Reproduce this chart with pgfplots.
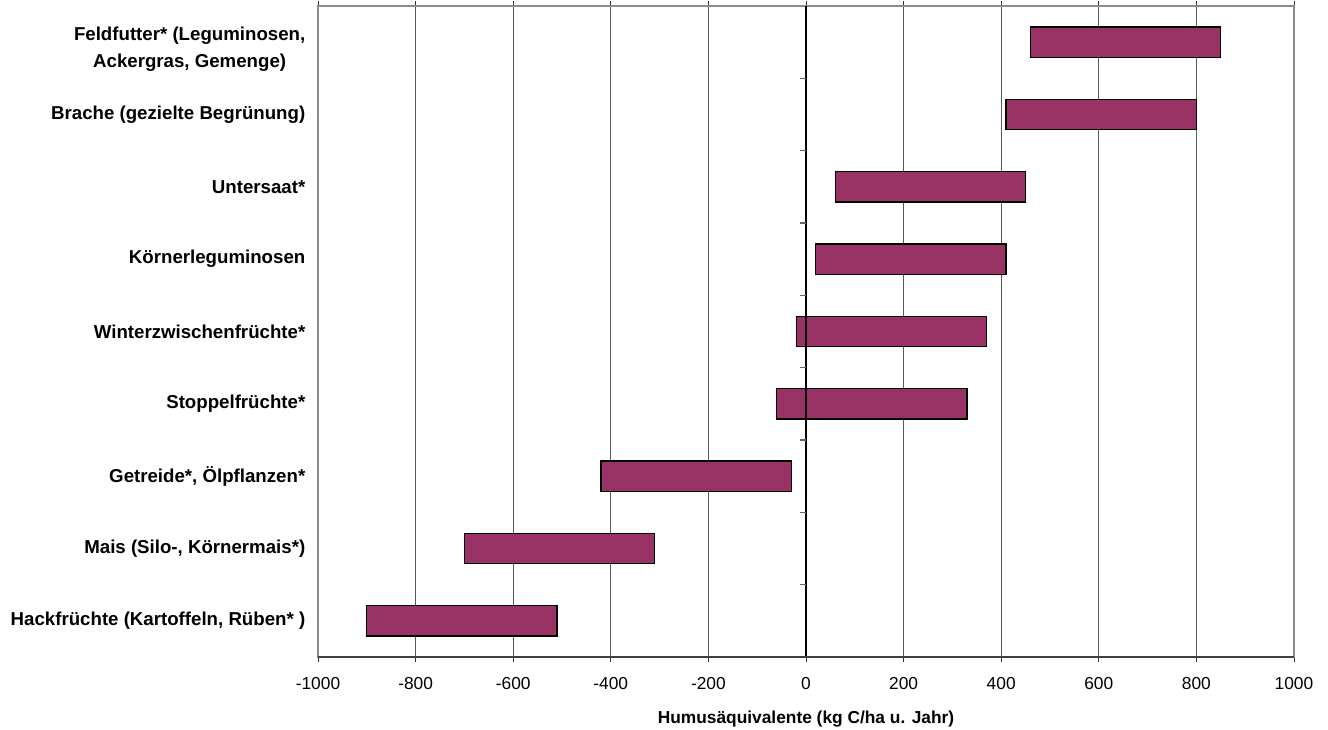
\documentclass[border=0pt]{standalone}
\usepackage{fontspec}
\setmainfont{Liberation Sans}
\usepackage{pgfplots}
\pgfplotsset{compat=1.18}
\definecolor{barcol}{HTML}{993366}
\begin{document}
\begin{tikzpicture}[x=1pt,y=1pt]
\useasboundingbox (-238.5,-54.75) rectangle (757.5,492.75);
\begin{axis}[
  at={(0,0)}, anchor=south west,
  scale only axis, width=732pt, height=488.25pt,
  xmin=-1000, xmax=1000, ymin=-0.5, ymax=8.5,
  xtick={-1000,-800,...,1000},
  ytick={0,...,8},
  yticklabels={{Hackfrüchte (Kartoffeln, Rüben* )},{Mais (Silo-, Körnermais*)},{Getreide*, Ölpflanzen*},Stoppelfrüchte*,Winterzwischenfrüchte*,Körnerleguminosen,Untersaat*,Brache (gezielte Begrünung),{\raisebox{-8.75pt}[0pt][0pt]{\begin{tabular}{@{}c@{}}Feldfutter* (Leguminosen,\\Ackergras, Gemenge)\end{tabular}}}},
  yticklabel style={font=\fontsize{14}{20.25}\selectfont\bfseries, align=center, xshift=-2pt},
  xticklabel style={font=\fontsize{13}{15}\selectfont, yshift=-7.75pt},
  /pgf/number format/assume math mode=true,
  /pgf/number format/1000 sep={},
  ytick style={draw=none},
  tick align=outside,
  x tick style={black!80, line width=0.6pt},
  major tick length=4pt,
  xmajorgrids,
  grid style={black!65, line width=0.6pt},
  axis line style={black!45, line width=0.8pt},
  xlabel={\bfseries Humusäquivalente (kg C/ha u. Jahr)},
  xlabel style={font=\fontsize{13}{15}\selectfont, yshift=-9pt},
  clip=false,
]
\pgfplotsset{bar/.style={fill=barcol, draw=black, line width=1pt, line join=miter}}
% Hackfruechte -900..-510
\addplot[bar] coordinates {(-900,-0.2076) (-510,-0.2076) (-510,0.2076) (-900,0.2076)} --cycle;
% Mais -700..-310
\addplot[bar] coordinates {(-700,0.7924) (-310,0.7924) (-310,1.2076) (-700,1.2076)} --cycle;
% Getreide -420..-30
\addplot[bar] coordinates {(-420,1.7924) (-30,1.7924) (-30,2.2076) (-420,2.2076)} --cycle;
% Stoppelfruechte -60..330
\addplot[bar] coordinates {(-60,2.7924) (330,2.7924) (330,3.2076) (-60,3.2076)} --cycle;
% Winterzwischenfruechte -20..370
\addplot[bar] coordinates {(-20,3.7924) (370,3.7924) (370,4.2076) (-20,4.2076)} --cycle;
% Koernerleguminosen 20..410
\addplot[bar] coordinates {(20,4.7924) (410,4.7924) (410,5.2076) (20,5.2076)} --cycle;
% Untersaat 60..450
\addplot[bar] coordinates {(60,5.7924) (450,5.7924) (450,6.2076) (60,6.2076)} --cycle;
% Brache 410..800
\addplot[bar] coordinates {(410,6.7924) (800,6.7924) (800,7.2076) (410,7.2076)} --cycle;
% Feldfutter 460..850
\addplot[bar] coordinates {(460,7.7924) (850,7.7924) (850,8.2076) (460,8.2076)} --cycle;
\draw[black, line width=0.8pt] (axis cs:0,-0.5) -- (axis cs:0,8.5);
\pgfplotsinvokeforeach{0.5,1.5,2.5,3.5,4.5,5.5,6.5,7.5}{
  \draw[black!60, line width=0.8pt] (axis cs:-12,#1) -- (axis cs:0,#1);
}
\draw[black!75, line width=0.8pt] (axis cs:-1000,-0.5) -- (axis cs:1000,-0.5);
\end{axis}
\end{tikzpicture}
\end{document}
